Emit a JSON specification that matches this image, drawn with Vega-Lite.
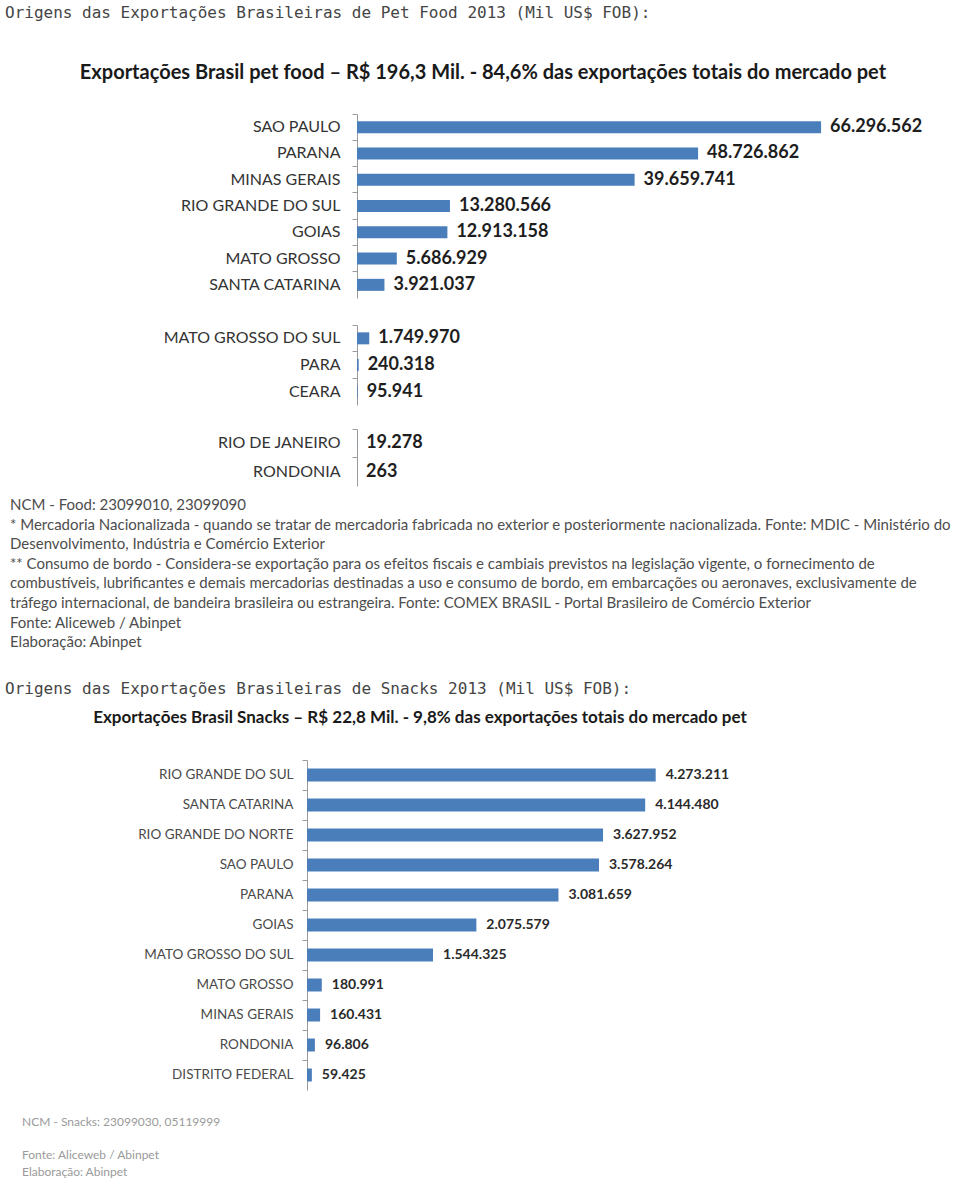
{
  "$schema": "https://vega.github.io/schema/vega-lite/v6.json",
  "background": "white",
  "padding": {"left": 5, "top": 4, "right": 0, "bottom": 0},
  "config": {
    "locale": {"number": {"decimal": ",", "thousands": ".", "grouping": [3], "currency": ["R$ ", ""]}},
    "view": {"stroke": null},
    "font": "Lato",
    "axisY": {"title": null, "labelFont": "Lato", "domainColor": "#9a9a9a", "tickColor": "#9a9a9a", "tickSize": 5, "bandPosition": 0, "labelLimit": 400}
  },
  "datasets": {
    "food1": [
      {"estado": "SAO PAULO", "valor": 66296562},
      {"estado": "PARANA", "valor": 48726862},
      {"estado": "MINAS GERAIS", "valor": 39659741},
      {"estado": "RIO GRANDE DO SUL", "valor": 13280566},
      {"estado": "GOIAS", "valor": 12913158},
      {"estado": "MATO GROSSO", "valor": 5686929},
      {"estado": "SANTA CATARINA", "valor": 3921037}
    ],
    "food2": [
      {"estado": "MATO GROSSO DO SUL", "valor": 1749970},
      {"estado": "PARA", "valor": 240318},
      {"estado": "CEARA", "valor": 95941}
    ],
    "food3": [
      {"estado": "RIO DE JANEIRO", "valor": 19278},
      {"estado": "RONDONIA", "valor": 263}
    ],
    "snacks": [
      {"estado": "RIO GRANDE DO SUL", "valor": 4273211},
      {"estado": "SANTA CATARINA", "valor": 4144480},
      {"estado": "RIO GRANDE DO NORTE", "valor": 3627952},
      {"estado": "SAO PAULO", "valor": 3578264},
      {"estado": "PARANA", "valor": 3081659},
      {"estado": "GOIAS", "valor": 2075579},
      {"estado": "MATO GROSSO DO SUL", "valor": 1544325},
      {"estado": "MATO GROSSO", "valor": 180991},
      {"estado": "MINAS GERAIS", "valor": 160431},
      {"estado": "RONDONIA", "valor": 96806},
      {"estado": "DISTRITO FEDERAL", "valor": 59425}
    ]
  },
  "spacing": 29,
  "vconcat": [
    {
      "title": {"text": "Origens das Exportações Brasileiras de Pet Food 2013 (Mil US$ FOB):", "anchor": "start", "frame": "group", "font": "DejaVu Sans Mono", "fontSize": 16, "fontWeight": "normal", "color": "#454545", "dx": -302, "offset": 42},
      "vconcat": [
        {
          "title": {"text": ["NCM - Food: 23099010, 23099090", "* Mercadoria Nacionalizada - quando se tratar de mercadoria fabricada no exterior e posteriormente nacionalizada. Fonte: MDIC - Ministério do", "Desenvolvimento, Indústria e Comércio Exterior", " ** Consumo de bordo - Considera-se exportação para os efeitos fiscais e cambiais previstos na legislação vigente, o fornecimento de", "combustíveis, lubrificantes e demais mercadorias destinadas a uso e consumo de bordo, em embarcações ou aeronaves, exclusivamente de", "tráfego internacional, de bandeira brasileira ou estrangeira.  Fonte: COMEX BRASIL - Portal Brasileiro de Comércio Exterior", " Fonte: Aliceweb / Abinpet", " Elaboração:  Abinpet"], "orient": "bottom", "anchor": "start", "frame": "group", "font": "Lato", "fontSize": 15, "fontWeight": "normal", "color": "#4d4d4d", "lineHeight": 19.6, "dx": -297, "offset": 12},
          "spacing": 26,
          "vconcat": [
            {
              "title": {"text": "Exportações Brasil pet food – R$ 196,3 Mil. - 84,6% das exportações totais do mercado pet", "anchor": "middle", "frame": "group", "font": "Lato", "fontSize": 20, "fontWeight": "bold", "color": "#1a1a1a", "dx": -94, "offset": 31},
              "width": 540,
              "height": 184,
              "data": {"name": "food1"},
              "encoding": {
                "y": {"field": "estado", "type": "nominal", "sort": null, "scale": {"paddingInner": 0, "paddingOuter": 0}, "axis": {"labelFontSize": 16, "labelColor": "#333333", "labelPadding": 12, "offset": -50}},
                "x": {"field": "valor", "type": "quantitative", "scale": {"domain": [-7142857, 70000000]}, "axis": null}
              },
              "layer": [
                {"mark": {"type": "bar", "size": 12, "color": "#4a7ebb"}},
                {"mark": {"type": "text", "align": "left", "dx": 9, "font": "Lato", "fontSize": 18, "fontWeight": "bold", "color": "#1e1e1e"}, "encoding": {"text": {"field": "valor", "type": "quantitative", "format": ",d"}}}
              ]
            },
            {
              "spacing": 23,
              "vconcat": [
                {
                  "width": 540,
                  "height": 80,
                  "data": {"name": "food2"},
                  "encoding": {
                    "y": {"field": "estado", "type": "nominal", "sort": null, "scale": {"paddingInner": 0, "paddingOuter": 0}, "axis": {"labelFontSize": 16, "labelColor": "#333333", "labelPadding": 12, "offset": -50}},
                    "x": {"field": "valor", "type": "quantitative", "scale": {"domain": [-7142857, 70000000]}, "axis": null}
                  },
                  "layer": [
                    {"mark": {"type": "bar", "size": 12, "color": "#4a7ebb"}},
                    {"mark": {"type": "text", "align": "left", "dx": 9, "font": "Lato", "fontSize": 18, "fontWeight": "bold", "color": "#1e1e1e"}, "encoding": {"text": {"field": "valor", "type": "quantitative", "format": ",d"}}}
                  ]
                },
                {
                  "width": 540,
                  "height": 57,
                  "data": {"name": "food3"},
                  "encoding": {
                    "y": {"field": "estado", "type": "nominal", "sort": null, "scale": {"paddingInner": 0, "paddingOuter": 0}, "axis": {"labelFontSize": 16, "labelColor": "#333333", "labelPadding": 12, "offset": -50}},
                    "x": {"field": "valor", "type": "quantitative", "scale": {"domain": [-7142857, 70000000]}, "axis": null}
                  },
                  "layer": [
                    {"mark": {"type": "bar", "size": 12, "color": "#4a7ebb"}},
                    {"mark": {"type": "text", "align": "left", "dx": 9, "font": "Lato", "fontSize": 18, "fontWeight": "bold", "color": "#1e1e1e"}, "encoding": {"text": {"field": "valor", "type": "quantitative", "format": ",d"}}}
                  ]
                }
              ]
            }
          ]
        }
      ]
    },
    {
      "title": {"text": "Origens das Exportações Brasileiras de Snacks 2013 (Mil US$ FOB):", "anchor": "start", "frame": "group", "font": "DejaVu Sans Mono", "fontSize": 16, "fontWeight": "normal", "color": "#454545", "dx": -302, "offset": 12},
      "vconcat": [
        {
          "title": {"text": "NCM - Snacks: 23099030, 05119999", "subtitle": ["Fonte: Aliceweb / Abinpet", "Elaboração: Abinpet"], "orient": "bottom", "anchor": "start", "frame": "group", "font": "Lato", "fontSize": 12, "fontWeight": "normal", "color": "#9a9a9a", "lineHeight": 16.5, "subtitleFont": "Lato", "subtitleFontSize": 12, "subtitleColor": "#9a9a9a", "subtitleLineHeight": 16.5, "subtitlePadding": 21, "dx": -285, "offset": 27},
          "vconcat": [
            {
              "title": {"text": "Exportações Brasil Snacks – R$ 22,8 Mil. - 9,8% das exportações totais do mercado pet", "anchor": "middle", "frame": "group", "font": "Lato", "fontSize": 17, "fontWeight": "bold", "color": "#1a1a1a", "dx": -91, "offset": 33},
              "width": 408,
              "height": 330,
              "data": {"name": "snacks"},
              "encoding": {
                "y": {"field": "estado", "type": "nominal", "sort": null, "scale": {"paddingInner": 0, "paddingOuter": 0}, "axis": {"labelFontSize": 13.5, "labelColor": "#4a4a4a", "labelPadding": 9}},
                "x": {"field": "valor", "type": "quantitative", "scale": {"domain": [0, 5000000]}, "axis": null}
              },
              "layer": [
                {"mark": {"type": "bar", "size": 13, "color": "#4a7ebb"}},
                {"mark": {"type": "text", "align": "left", "dx": 10, "font": "Lato", "fontSize": 14, "fontWeight": "bold", "color": "#2a2a2a"}, "encoding": {"text": {"field": "valor", "type": "quantitative", "format": ",d"}}}
              ]
            }
          ]
        }
      ]
    }
  ]
}
